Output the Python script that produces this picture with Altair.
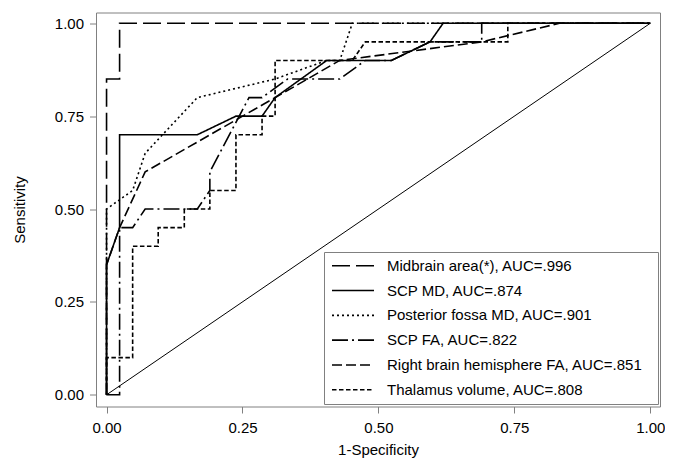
import altair as alt
import pandas as pd

# ---- data ----
series_names = [
    "Midbrain area(*), AUC=.996",
    "SCP MD, AUC=.874",
    "Posterior fossa MD, AUC=.901",
    "SCP FA, AUC=.822",
    "Right brain hemisphere FA, AUC=.851",
    "Thalamus volume, AUC=.808",
]

midbrain_x = [0, 0, 0.024, 0.024, 1]
midbrain_y = [0, 0.85, 0.85, 1.00, 1.00]

scp_md_x = [0, 0, 0.024, 0.024, 0.167, 0.238, 0.286, 0.310, 0.405, 0.524, 0.595, 0.619, 1]
scp_md_y = [0, 0.35, 0.45, 0.70, 0.70, 0.75, 0.75, 0.80, 0.90, 0.90, 0.95, 1.00, 1.00]

post_fossa_x = [0, 0, 0.048, 0.071, 0.167, 0.310, 0.405, 0.429, 0.452, 1]
post_fossa_y = [0, 0.50, 0.55, 0.65, 0.80, 0.85, 0.90, 0.90, 1.00, 1.00]

scp_fa_x = [0, 0.024, 0.024, 0.048, 0.071, 0.167, 0.190, 0.190, 0.262, 0.286,
            0.333, 0.429, 0.476, 0.524, 0.595, 0.690, 0.690, 1]
scp_fa_y = [0, 0, 0.45, 0.45, 0.50, 0.50, 0.55, 0.60, 0.80, 0.80,
            0.85, 0.85, 0.90, 0.90, 0.95, 0.95, 1.00, 1.00]

right_fa_x = [0, 0, 0.024, 0.071, 0.310, 0.429, 0.690, 0.833, 1]
right_fa_y = [0, 0.35, 0.45, 0.60, 0.80, 0.90, 0.95, 1.00, 1.00]

thalamus_x = [0, 0, 0.048, 0.048, 0.095, 0.095, 0.143, 0.143, 0.190, 0.190, 0.238,
              0.238, 0.286, 0.286, 0.310, 0.310, 0.405, 0.452, 0.476, 0.738, 0.738, 1]
thalamus_y = [0, 0.10, 0.10, 0.40, 0.40, 0.45, 0.45, 0.50, 0.50, 0.55, 0.55,
              0.70, 0.70, 0.75, 0.75, 0.90, 0.90, 0.90, 0.95, 0.95, 1.00, 1.00]

diag_x = [0, 1]
diag_y = [0, 1]

tick_values = [0, 0.25, 0.5, 0.75, 1]

dash_patterns = [[18, 6], [1, 0], [2, 3], [16, 4, 2, 4], [10, 4], [4.5, 2.5]]

xs_all = [midbrain_x, scp_md_x, post_fossa_x, scp_fa_x, right_fa_x, thalamus_x]
ys_all = [midbrain_y, scp_md_y, post_fossa_y, scp_fa_y, right_fa_y, thalamus_y]

rows = []
for name, xs, ys in zip(series_names, xs_all, ys_all):
    for i, (a, b) in enumerate(zip(xs, ys)):
        rows.append({"series": name, "fpr": a, "tpr": b, "ord": i})
df = pd.DataFrame(rows)
diag_df = pd.DataFrame({"fpr": diag_x, "tpr": diag_y, "ord": [0, 1]})

FONT = "Liberation Sans"
GRAY = "#808080"

W, H = 564, 394

x_scale = alt.Scale(domain=[-0.0194, 1.0179], nice=False, zero=False)
y_scale = alt.Scale(domain=[-0.0315, 1.029], nice=False, zero=False)

x_axis = alt.Axis(values=tick_values, format=".2f", grid=False, domain=False,
                  tickSize=6.5, tickColor=GRAY, labelPadding=7, labelFontSize=15,
                  labelFont=FONT, labelColor="black", title="1-Specificity",
                  titleFont=FONT, titleFontSize=15, titleFontWeight="normal",
                  titleColor="black", titleX=W / 2, titleY=48,
                  titleBaseline="alphabetic", titleAlign="center")
y_axis = alt.Axis(values=tick_values, format=".2f", grid=False, domain=False,
                  tickSize=6.5, tickColor=GRAY, labelPadding=6, labelFontSize=15,
                  labelFont=FONT, labelColor="black", title="Sensitivity",
                  titleFont=FONT, titleFontSize=15, titleFontWeight="normal",
                  titleColor="black", titleX=-69, titleY=H / 2, titleAngle=270,
                  titleBaseline="bottom", titleAlign="center")

x_enc = alt.X("fpr:Q", scale=x_scale, axis=x_axis)
y_enc = alt.Y("tpr:Q", scale=y_scale, axis=y_axis)

diag = alt.Chart(diag_df).mark_line(color="black", strokeWidth=1).encode(
    x=x_enc, y=y_enc, order="ord:Q"
)

curves = alt.Chart(df).mark_line(color="black", strokeWidth=1.6).encode(
    x=x_enc,
    y=y_enc,
    order="ord:Q",
    strokeDash=alt.StrokeDash(
        "series:N",
        scale=alt.Scale(domain=series_names, range=dash_patterns),
        legend=alt.Legend(
            title=" ", titleOrient="right", titlePadding=12, titleFontSize=15,
            orient="none", legendX=228, legendY=239.5,
            symbolType="stroke", symbolSize=1764, symbolStrokeWidth=1.6,
            symbolStrokeColor="black", labelFont=FONT, labelFontSize=15,
            labelColor="black", labelLimit=500, padding=3, symbolOffset=4,
            labelOffset=12, clipHeight=21.5, rowPadding=2.8,
            strokeColor=GRAY, fillColor="white",
        ),
    ),
)

chart = alt.layer(diag, curves).properties(
    width=W, height=H,
    autosize=alt.AutoSizeParams(type="none"),
    padding={"left": 88, "top": 4.5, "right": 5, "bottom": 52.5},
).configure_view(stroke=GRAY, strokeWidth=1)

chart.save("out.html", embed_options={"renderer": "svg", "actions": False})
